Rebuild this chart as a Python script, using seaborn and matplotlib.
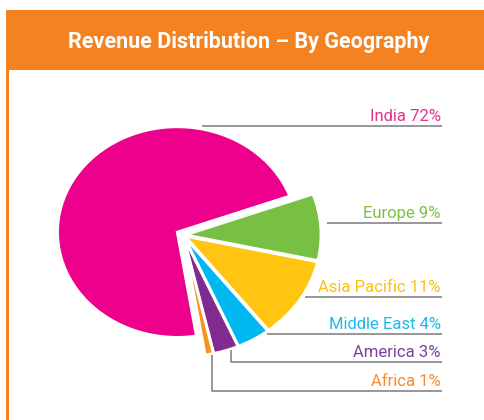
import matplotlib
matplotlib.use("Agg")
import matplotlib.pyplot as plt
from matplotlib import font_manager as fm
from matplotlib.patches import Rectangle
import seaborn as sns

# ---------------- data ----------------
regions = ["India", "Europe", "Asia Pacific", "Middle East", "America", "Africa"]
shares = [72, 9, 11, 4, 3, 1]
label_texts = ["India 72%", "Europe 9%", "Asia Pacific 11%", "Middle East 4%", "America 3%", "Africa 1%"]
title = "Revenue Distribution \u2013 By Geography"

# ---------------- style ----------------
slice_colors = ["#EC008C", "#77C043", "#FFC510", "#00B8F0", "#7F2B8F", "#F7941D"]
text_colors = ["#E6308C", "#7AC143", "#FDC00F", "#1FB8EC", "#7D3F98", "#F68B33"]
header_color = "#F58220"
leader_color = "#7A7A7A"

sns.set_theme(style="white")
names = {f.name for f in fm.fontManager.ttflist}
if "Liberation Sans Narrow" in names:
    label_family, label_size = "Liberation Sans Narrow", 14
else:
    label_family, label_size = "Roboto", 12
plt.rcParams["font.family"] = ["Roboto", "DejaVu Sans"]

W, H = 485, 420
fig = plt.figure(figsize=(W / 100, H / 100), dpi=100)
fig.patch.set_facecolor("white")

# ---------------- pie ----------------
ax = fig.add_axes([0, 0, 1, 1])
explode = [0.05, 0.018, 0.018, 0.018, 0.018, 0.018]
wedges, _ = ax.pie(shares, colors=slice_colors, startangle=279.2, counterclock=False,
                   explode=explode, radius=1.02,
                   wedgeprops=dict(edgecolor="white", linewidth=2.0))
wedges[0].set_radius(0.9)
ax.set_aspect("auto")
ax.set_xlim(-1.376, 2.271)
ax.set_ylim(-1.581, 2.009)
ax.axis("off")

# ---------------- overlay (pixel space) ----------------
ov = fig.add_axes([0, 0, 1, 1], zorder=5)
ov.set_xlim(0, W)
ov.set_ylim(H, 0)
ov.axis("off")
ov.patch.set_alpha(0)

ov.add_patch(Rectangle((6, 10), W - 6, 60, color=header_color, lw=0))
ov.add_patch(Rectangle((6, 70), 3, H - 70, color=header_color, lw=0))
ov.text(249, 48, title, color="white", fontsize=15.5, fontweight="bold",
        family=["Roboto", "DejaVu Sans"], ha="center", va="baseline")

# leader-line layout: (start x, line y, elbow start y or None)
leaders = [(202, 126, None), (327, 223, None), (305, 297, None),
           (267, 334, None), (231, 362, 350), (212, 391, 355)]
line_end = 442
for txt, col, (x0, ly, ey) in zip(label_texts, text_colors, leaders):
    if ey is None:
        ov.plot([x0, line_end], [ly, ly], color=leader_color, lw=1.1, solid_capstyle="butt")
    else:
        ov.plot([x0, x0, line_end], [ey, ly, ly], color=leader_color, lw=1.1, solid_capstyle="butt")
    ov.text(441, ly - 5, txt, color=col, fontsize=label_size, family=[label_family, "DejaVu Sans"],
            ha="right", va="baseline")

fig.savefig("out.png", dpi=100)
